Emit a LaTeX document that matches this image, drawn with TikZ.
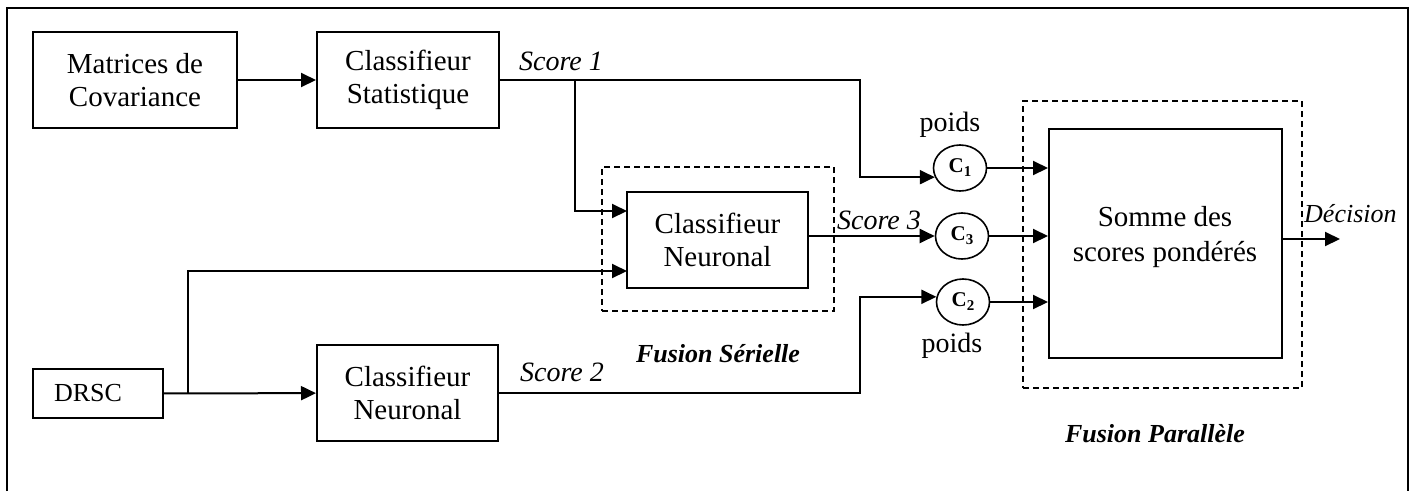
\documentclass[tikz,border=0pt]{standalone}
\usepackage{fontspec}
\setmainfont{Liberation Serif}
\usetikzlibrary{arrows.meta,shapes.geometric,calc}

\begin{document}
\begin{tikzpicture}[x=1pt,y=-1pt,
  box/.style={draw,line width=2pt,rectangle,inner sep=0pt,align=center,
    font=\fontsize{29}{33}\selectfont},
  grp/.style={draw,line width=1.5pt,dash pattern=on 6pt off 4pt,rectangle,inner sep=0pt},
  wt/.style={draw,ellipse,line width=1.6pt,minimum width=53pt,minimum height=46pt,inner sep=0pt},
  link/.style={line width=2pt,-{Triangle[length=15pt,width=14pt]}},
  lbl/.style={font=\fontsize{28}{28}\selectfont\itshape,inner sep=0pt,anchor=base},
  fuse/.style={font=\fontsize{26}{26}\selectfont\bfseries\itshape,inner sep=0pt,anchor=base},
  plain/.style={font=\fontsize{28}{28}\selectfont,inner sep=0pt,anchor=base},
  cw/.style={font=\fontsize{21}{21}\selectfont\bfseries}]

\useasboundingbox (0,0) rectangle (1416,491);

% outer frame (open at the bottom)
\draw[line width=2.2pt] (7,491) -- (7,8) -- (1408,8) -- (1408,491);

% fusion groups
\node[grp,minimum width=232pt,minimum height=144pt] (serial) at (718,239) {};
\node[grp,minimum width=279pt,minimum height=287pt] (parallel) at (1162.5,244.5) {};

% processing blocks
\node[box,minimum width=204pt,minimum height=96pt] (mat) at (135,80) {Matrices de\\Covariance};
\node[box,minimum width=182pt,minimum height=96pt] (stat) at (408,80) {Classifieur\\Statistique};
\node[box,minimum width=181pt,minimum height=96pt] (neu1) at (717.5,240) {Classifieur\\Neuronal};
\node[box,minimum width=181pt,minimum height=96pt] (neu2) at (407.5,393) {Classifieur\\Neuronal};
\node[box,minimum height=49pt,text width=88pt,align=left,inner xsep=21pt,
      font=\fontsize{26}{26}\selectfont] (drsc) at (98,393.5) {DRSC};
\node[box,minimum width=233pt,minimum height=229pt] (somme) at (1165.5,243.5) {};
\node[inner sep=0pt,align=center,font=\fontsize{29}{35}\selectfont] (sommetxt)
  at (1165,237.5) {Somme des\\scores pondérés};

% weights
\node[wt] (C1) at (960,168) {};
\node[wt] (C3) at (962,236) {};
\node[wt] (C2) at (963,302) {};
\node[cw] (C1t) at (C1) {C\raisebox{-4pt}{\fontsize{15}{15}\selectfont 1}};
\node[cw] (C3t) at (C3) {C\raisebox{-4pt}{\fontsize{15}{15}\selectfont 3}};
\node[cw] (C2t) at (C2) {C\raisebox{-4pt}{\fontsize{15}{15}\selectfont 2}};

% routing points
\coordinate (b1) at (575,80);
\coordinate (t1) at (860,80);
\coordinate (n1a) at (627,211);
\coordinate (b2) at (188,393.5);
\coordinate (n1b) at (627,271);
\coordinate (t2) at (860,393);
\coordinate (dec) at (1340,239);

% connectors
\draw[link] (mat) -- (stat);
\draw[link] (stat.east) -- (t1) |- (C1.200);
\draw[link] (b1) |- (n1a);
\draw[link] (drsc) -- (neu2);
\draw[link] (b2) |- (n1b);
\draw[link] (neu1.east |- C3) -- (C3);
\draw[link] (neu2) -- (t2) |- (C2.169);
\draw[link] (C1) -- (somme.west |- C1);
\draw[link] (C3) -- (somme.west |- C3);
\draw[link] (C2) -- (somme.west |- C2);
\draw[link] (somme.east |- dec) -- (dec);

% labels
\node[lbl] (s1) at (561,70) {Score 1};
\node[lbl,anchor=base west] (s3) at (837,229) {Score 3};
\node[lbl] (s2) at (562,381) {Score 2};
\node[lbl,anchor=base west,font=\fontsize{26}{26}\selectfont\itshape] (dl) at (1304,222) {Décision};
\node[plain] (p1) at (950,131) {poids};
\node[plain] (p2) at (952,352) {poids};
\node[fuse] (fs) at (718,362) {Fusion Sérielle};
\node[fuse] (fp) at (1155,442) {Fusion Parallèle};
\end{tikzpicture}
\end{document}
